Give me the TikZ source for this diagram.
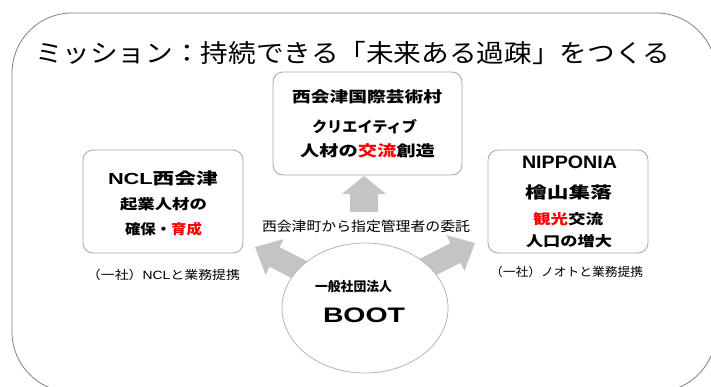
\documentclass[tikz,border=0pt]{standalone}
\usepackage{fontspec}
\usepackage{graphicx}
\usetikzlibrary{shapes.geometric}
\newfontfamily\jp{Noto Sans CJK JP}
\newfontfamily\lat{Liberation Sans}
\definecolor{framegray}{HTML}{808080}
\definecolor{boxgray}{HTML}{A6A6A6}
\definecolor{arrowgray}{HTML}{C4C4C4}
\definecolor{ellgray}{HTML}{B4B4B4}
\definecolor{hotred}{HTML}{FF0000}
\newcommand\fitw[2]{\resizebox{#1pt}{\height}{#2}}
\newcommand\rd[1]{\textcolor{hotred}{#1}}
\begin{document}
\begin{tikzpicture}[x=1pt,y=-1pt,
  txt/.style={anchor=base, inner sep=0pt, outer sep=0pt},
  card/.style={draw=boxgray, line width=0.8pt, rounded corners=10pt, fill=white, inner sep=0pt},
  pics/barrow/.style n args={4}{code={\fill[arrowgray] (0,0) -- (-#1,#2) -- (-#1,#3) -- (-#4,#3) -- (-#4,-#3) -- (-#1,-#3) -- (-#1,-#2) -- cycle;}}
]
\useasboundingbox (0,0) rectangle (711,386);
\begin{scope}
\clip (0,0) rectangle (711,386);
\draw[framegray, line width=0.8pt, rounded corners=60pt] (12,13) rectangle (716,392);
\end{scope}

% title
\node[txt, font=\jp\fontsize{25}{30}\selectfont] (title) at (352.5,62.5) {\fitw{635}{ミッション：持続できる「未来ある過疎」をつくる}};

% boxes
\node[card, minimum width=189pt, minimum height=103pt] (village) at (367.5,123.5) {};
\node[card, minimum width=160pt, minimum height=103pt] (ncl) at (163,201.5) {};
\node[card, minimum width=160pt, minimum height=103pt] (nipponia) at (568,201.5) {};

% block arrows
\pic[rotate=90] at (364,176) {barrow={18}{22}{14}{36}};
\pic[rotate=27] at (475,243) {barrow={22}{20}{11}{60}};
\pic[rotate=153] at (255,247) {barrow={22}{20}{11}{60}};

% ellipse
\node[ellipse, draw=ellgray, line width=0.8pt, fill=white, minimum width=166pt, minimum height=130pt, inner sep=0pt] (boot) at (365,308) {};

% top box text
\node[txt, font=\jp\bfseries\fontsize{15}{18}\selectfont] (v1) at (367,102.2) {\fitw{150}{西会津国際芸術村}};
\node[txt, font=\jp\bfseries\fontsize{15}{18}\selectfont] (v2) at (364.5,132.7) {\fitw{105}{クリエイティブ}};
\node[txt, font=\jp\bfseries\fontsize{15}{18}\selectfont] (v3) at (367.5,156.2) {\fitw{135}{人材の\rd{交流}創造}};

% left box text
\node[txt, font=\jp\bfseries\fontsize{16}{19}\selectfont] (n1) at (163,184.6) {\fitw{110}{{\lat\bfseries NCL}西会津}};
\node[txt, font=\jp\bfseries\fontsize{14}{17}\selectfont] (n2) at (163.5,209.3) {\fitw{87}{起業人材の}};
\node[txt, font=\jp\bfseries\fontsize{14}{17}\selectfont] (n3) at (163.5,234.3) {\fitw{77}{確保・\rd{育成}}};

% right box text
\node[txt, font=\lat\bfseries\fontsize{18}{21}\selectfont] (p1) at (569.5,168) {\fitw{95}{NIPPONIA}};
\node[txt, font=\jp\bfseries\fontsize{16}{19}\selectfont] (p2) at (568.5,198.1) {\fitw{87}{檜山集落}};
\node[txt, font=\jp\bfseries\fontsize{14}{17}\selectfont] (p3) at (568,224.3) {\fitw{70}{\rd{観光}交流}};
\node[txt, font=\jp\bfseries\fontsize{14}{17}\selectfont] (p4) at (569,246.8) {\fitw{86}{人口の増大}};

% labels
\node[txt, font=\jp\fontsize{12}{14}\selectfont] (lab1) at (163.5,279.6) {\fitw{153}{（一社）{\lat NCL}と業務提携}};
\node[txt, font=\jp\fontsize{12}{14}\selectfont] (lab2) at (566.5,276.6) {\fitw{153}{（一社）ノオトと業務提携}};
\node[txt, font=\jp\fontsize{13.5}{16}\selectfont] (lab3) at (366,231.1) {\fitw{208}{西会津町から指定管理者の委託}};

% ellipse text
\node[txt, font=\jp\bfseries\fontsize{13}{16}\selectfont] (b1) at (353.5,291.4) {\fitw{77}{一般社団法人}};
\node[txt, font=\lat\bfseries\fontsize{21}{25}\selectfont] (b2) at (364,322) {\fitw{82}{BOOT}};
\end{tikzpicture}
\end{document}
